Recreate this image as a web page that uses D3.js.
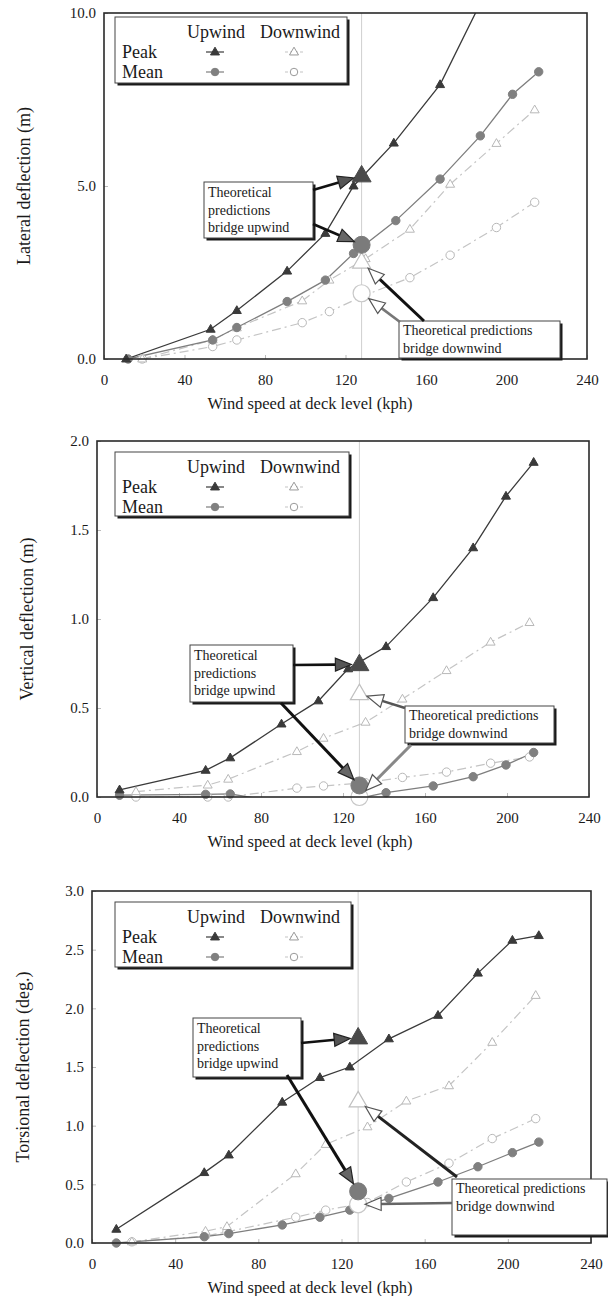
<!DOCTYPE html>
<html><head><meta charset="utf-8">
<script src="https://cdn.jsdelivr.net/npm/d3@7"></script>
<style>
body{margin:0;background:#fff}
svg{display:block}
svg text{font-family:"Liberation Serif","Times New Roman",serif !important;fill:#1a1a1a}
</style>
</head><body>
<svg id="c" width="608" height="1296" font-family="Liberation Serif, serif"></svg>
<script>
// ---------------- data ----------------
const xTicks = [0, 40, 80, 120, 160, 200, 240];
const lateralTicks = [0, 5, 10];
const verticalTicks = [0, 0.5, 1, 1.5, 2];
const torsionTicks = [0, 0.5, 1, 1.5, 2, 2.5, 3];
const xTitle = "Wind speed at deck level (kph)";
const legendCols = ["Upwind", "Downwind"];
const legendRows = ["Peak", "Mean"];
const boxUpText = ["Theoretical", "predictions", "bridge upwind"];
const boxDownText = ["Theoretical predictions", "bridge downwind"];
const theoryKph = 128;

// Lateral deflection (m)
const latPeakUpSpeed = [11, 53, 66, 91, 110, 124, 144, 167, 188];
const latPeakUp = [0, 0.86, 1.40, 2.54, 3.63, 5.0, 6.24, 7.93, 10.4];
const latMeanUpSpeed = [12, 54, 66, 91, 110, 124, 145, 167, 187, 203, 216];
const latMeanUp = [0, 0.55, 0.91, 1.66, 2.28, 3.05, 4.0, 5.2, 6.45, 7.65, 8.3];
const latDownSpeed = [19, 54, 66, 98.5, 112, 130, 152, 172, 195, 214];
const latPeakDown = [0, 0.55, 0.9, 1.68, 2.28, 2.9, 3.75, 5.05, 6.23, 7.2];
const latMeanDown = [0, 0.36, 0.55, 1.05, 1.37, 1.85, 2.35, 3.0, 3.8, 4.53];
const latTheory = {peakUp: 5.3, meanUp: 3.3, peakDown: 2.8, meanDown: 1.9};

// Vertical deflection (m)
const verUpSpeed = [11, 53, 65, 90, 108, 122.5, 141, 164, 183.5, 199.5, 213];
const verPeakUp = [0.04, 0.15, 0.22, 0.41, 0.54, 0.72, 0.845, 1.12, 1.40, 1.69, 1.88];
const verMeanUp = [0.01, 0.015, 0.017, -0.03, -0.04, -0.02, 0.024, 0.062, 0.114, 0.18, 0.25];
const verDownSpeed = [19, 54, 64, 97.5, 110.5, 131, 149, 170.5, 192, 211];
const verPeakDown = [0.03, 0.067, 0.10, 0.255, 0.33, 0.42, 0.55, 0.71, 0.87, 0.98];
const verMeanDown = [0.0, 0.0, 0.0, 0.05, 0.062, 0.08, 0.11, 0.14, 0.19, 0.225];
const verTheory = {peakUp: 0.745, meanUp: 0.065, peakDown: 0.58, meanDown: 0.0};

// Torsional deflection (deg.)
const torUpSpeed = [11.7, 54, 65.8, 91.5, 109.6, 124, 142.8, 166.4, 185.6, 202.2, 214.9];
const torPeakUp = [0.117, 0.60, 0.75, 1.20, 1.41, 1.50, 1.74, 1.94, 2.30, 2.58, 2.62];
const torMeanUp = [0, 0.054, 0.08, 0.154, 0.22, 0.28, 0.38, 0.52, 0.65, 0.77, 0.86];
const torDownSpeed = [19.2, 54.6, 64.9, 98, 112.4, 132.5, 151.2, 171.7, 192.5, 213.4];
const torPeakDown = [0.01, 0.10, 0.14, 0.59, 0.84, 0.99, 1.21, 1.34, 1.71, 2.11];
const torMeanDown = [0.01, 0.06, 0.095, 0.22, 0.28, 0.345, 0.52, 0.68, 0.89, 1.06];
const torTheory = {peakUp: 1.75, meanUp: 0.44, peakDown: 1.21, meanDown: 0.33};

// ---------------- layout ----------------
const panels = [
  {
    x0: 104, x1: 587, yb: 359, yt: 13, ymax: 10, ticks: lateralTicks,
    ytitle: "Lateral deflection (m)", ytx: 24,
    series: {peakUp: [latPeakUpSpeed, latPeakUp], meanUp: [latMeanUpSpeed, latMeanUp],
             peakDown: [latDownSpeed, latPeakDown], meanDown: [latDownSpeed, latMeanDown]},
    theory: latTheory,
    legend: {x: 115, y: 17, w: 232, h: 66},
    boxUp: {x: 204, y: 182, w: 109, h: 56},
    boxDown: {x: 399, y: 321, w: 161, h: 37},
    arrows: [
      {from: [313, 190], to: "peakUp", gap: 8, color: "#111", w: 2.6, head: "#555"},
      {from: [313, 224], to: "meanUp", gap: 8, color: "#111", w: 2.6, head: "#666"},
      {from: [424, 321], to: "peakDown", gap: 9, color: "#111", w: 3, head: "#fff"},
      {from: [400, 322], to: "meanDown", gap: 9, color: "#777", w: 2.6, head: "#fff"}
    ]
  },
  {
    x0: 97, x1: 589, yb: 797, yt: 441, ymax: 2, ticks: verticalTicks,
    ytitle: "Vertical deflection (m)", ytx: 27,
    series: {peakUp: [verUpSpeed, verPeakUp], meanUp: [verUpSpeed, verMeanUp],
             peakDown: [verDownSpeed, verPeakDown], meanDown: [verDownSpeed, verMeanDown]},
    theory: verTheory,
    legend: {x: 115, y: 452, w: 234, h: 64},
    boxUp: {x: 190, y: 645, w: 103, h: 57},
    boxDown: {x: 405, y: 706, w: 149, h: 37},
    arrows: [
      {from: [293, 665], to: "peakUp", gap: 8, color: "#111", w: 2.6, head: "#555"},
      {from: [281, 703], to: "meanUp", gap: 8, color: "#111", w: 3, head: "#666"},
      {from: [405, 708], to: "peakDown", gap: 8, color: "#555", w: 2.6, head: "#fff"},
      {from: [411, 745], to: "meanDown", gap: 9, color: "#888", w: 3, head: "#fff"}
    ]
  },
  {
    x0: 92, x1: 591, yb: 1243, yt: 891, ymax: 3, ticks: torsionTicks,
    ytitle: "Torsional deflection (deg.)", ytx: 23,
    series: {peakUp: [torUpSpeed, torPeakUp], meanUp: [torUpSpeed, torMeanUp],
             peakDown: [torDownSpeed, torPeakDown], meanDown: [torDownSpeed, torMeanDown]},
    theory: torTheory,
    legend: {x: 115, y: 902, w: 236, h: 65},
    boxUp: {x: 193, y: 1018, w: 108, h: 59},
    boxDown: {x: 452, y: 1179, w: 155, h: 56},
    arrows: [
      {from: [301, 1043], to: "peakUp", gap: 8, color: "#111", w: 2.6, head: "#555"},
      {from: [287, 1075], to: "meanUp", gap: 9, color: "#111", w: 3, head: "#666"},
      {from: [457, 1177], to: "peakDown", gap: 9, color: "#222", w: 3, head: "#fff"},
      {from: [452, 1203], to: "meanDown", gap: 7, color: "#666", w: 2.6, head: "#fff"}
    ]
  }
];

const styles = {
  peakUp:   {line: "#3a3a3a", lw: 1.3, dash: null, marker: "tri", fill: "#3a3a3a", stroke: "#3a3a3a"},
  meanUp:   {line: "#7e7e7e", lw: 1.3, dash: null, marker: "circ", fill: "#808080", stroke: "#808080"},
  peakDown: {line: "#c4c4c4", lw: 1.2, dash: "9,4,2,4", marker: "tri", fill: "#fff", stroke: "#b8b8b8"},
  meanDown: {line: "#c4c4c4", lw: 1.2, dash: "9,4,2,4", marker: "circ", fill: "#fff", stroke: "#b8b8b8"}
};
const SERIF = "Liberation Serif, Times New Roman, serif";

function triPath(cx, cy, w) {
  const h = w * 0.866;
  return `M${cx},${cy - h * 0.62}L${cx + w / 2},${cy + h * 0.38}L${cx - w / 2},${cy + h * 0.38}Z`;
}

const svg = d3.select("#c");

function marker(g, kind, cx, cy, size, fill, stroke, sw) {
  if (kind === "tri") {
    g.append("path").attr("d", triPath(cx, cy, size)).attr("fill", fill)
      .attr("stroke", stroke).attr("stroke-width", sw);
  } else {
    g.append("circle").attr("cx", cx).attr("cy", cy).attr("r", size / 2).attr("fill", fill)
      .attr("stroke", stroke).attr("stroke-width", sw);
  }
}

function shadowBox(g, b) {
  g.append("rect").attr("x", b.x + 2.5).attr("y", b.y + 2.5).attr("width", b.w).attr("height", b.h)
    .attr("fill", "#1a1a1a");
  g.append("rect").attr("x", b.x).attr("y", b.y).attr("width", b.w).attr("height", b.h)
    .attr("fill", "#fff").attr("stroke", "#444").attr("stroke-width", 1);
}

function label(g, x, y, size, txt, anchor) {
  return g.append("text").attr("x", x).attr("y", y).attr("font-size", size)
    .attr("text-anchor", anchor || "start").style("font-family", SERIF).text(txt);
}

function arrow(g, x1, y1, x2, y2, a) {
  const dx = x2 - x1, dy = y2 - y1, L = Math.hypot(dx, dy);
  const ux = dx / L, uy = dy / L;
  const hl = 16, hw = 6.5;
  const bx = x2 - ux * hl, by = y2 - uy * hl;
  g.append("line").attr("x1", x1).attr("y1", y1).attr("x2", bx + ux * 1).attr("y2", by + uy * 1)
    .attr("stroke", a.color).attr("stroke-width", a.w);
  const px = -uy, py = ux;
  g.append("path")
    .attr("d", `M${x2},${y2}L${bx + px * hw},${by + py * hw}L${bx - px * hw},${by - py * hw}Z`)
    .attr("fill", a.head).attr("stroke", a.head === "#fff" ? "#555" : "#222").attr("stroke-width", 1.2);
}

panels.forEach((p, i) => {
  const x = d3.scaleLinear().domain([0, 240]).range([p.x0, p.x1]);
  const y = d3.scaleLinear().domain([0, p.ymax]).range([p.yb, p.yt]);
  const g = svg.append("g");
  const clipId = "clip" + i;
  svg.append("defs").append("clipPath").attr("id", clipId).append("rect")
    .attr("x", p.x0).attr("y", p.yt).attr("width", p.x1 - p.x0).attr("height", p.yb - p.yt);

  // axes
  const xa = g.append("g").attr("transform", `translate(0,${p.yb})`)
    .call(d3.axisBottom(x).tickValues(xTicks).tickFormat(d3.format("d")).tickSizeInner(-4).tickSizeOuter(0).tickPadding(15));
  const ya = g.append("g").attr("transform", `translate(${p.x0},0)`)
    .call(d3.axisLeft(y).tickValues(p.ticks).tickFormat(d3.format(".1f")).tickSizeInner(-4).tickSizeOuter(0).tickPadding(8));
  [xa, ya].forEach(a => {
    a.attr("font-family", SERIF).attr("font-size", 15);
    a.select(".domain").remove();
    a.selectAll(".tick line").attr("stroke", "#bbb");
    a.selectAll(".tick text").style("font-family", SERIF).attr("font-size", 15).attr("fill", "#1a1a1a");
  });

  // theory vertical line
  g.append("line").attr("x1", x(theoryKph)).attr("x2", x(theoryKph)).attr("y1", p.yt).attr("y2", p.yb)
    .attr("stroke", "#cfcfcf").attr("stroke-width", 1);

  // series lines
  const plot = g.append("g").attr("clip-path", `url(#${clipId})`);
  const order = ["meanDown", "peakDown", "meanUp", "peakUp"];
  order.forEach(k => {
    const [sx, sy] = p.series[k];
    const pts = sx.map((v, j) => [v, sy[j]]);
    const st = styles[k];
    plot.append("path").datum(pts)
      .attr("d", d3.line().x(d => x(d[0])).y(d => y(d[1])))
      .attr("fill", "none").attr("stroke", st.line).attr("stroke-width", st.lw)
      .attr("stroke-dasharray", st.dash);
  });
  const mk = g.append("g");
  order.forEach(k => {
    const [sx, sy] = p.series[k];
    const st = styles[k];
    sx.forEach((v, j) => {
      const val = sy[j];
      if (val < 0 || val > p.ymax) return;
      marker(mk, st.marker, x(v), y(val), st.marker === "tri" ? 9 : 8.4, st.fill, st.stroke, 1);
    });
  });

  // theoretical predictions
  const th = p.theory;
  const thPos = {
    peakUp: [x(theoryKph), y(th.peakUp)], meanUp: [x(theoryKph), y(th.meanUp)],
    peakDown: [x(theoryKph), y(th.peakDown)], meanDown: [x(theoryKph), y(th.meanDown)]
  };
  marker(mk, "circ", thPos.meanDown[0], thPos.meanDown[1], 17, "#fff", "#c8c8c8", 1.2);
  marker(mk, "tri", thPos.peakDown[0], thPos.peakDown[1], 18, "#fff", "#c0c0c0", 1.2);
  marker(mk, "circ", thPos.meanUp[0], thPos.meanUp[1], 17, "#7b7b7b", "#7b7b7b", 1);
  marker(mk, "tri", thPos.peakUp[0], thPos.peakUp[1], 19, "#4a4a4a", "#4a4a4a", 1);

  // frame
  g.append("rect").attr("x", p.x0).attr("y", p.yt).attr("width", p.x1 - p.x0).attr("height", p.yb - p.yt)
    .attr("fill", "none").attr("stroke", "#2a2a2a").attr("stroke-width", 1.6);

  // axis titles
  label(g, 310, p.yb + 50, 16.5, xTitle, "middle");
  g.append("text").attr("transform", `translate(${p.ytx + 6},${(p.yt + p.yb) / 2}) rotate(-90)`)
    .attr("text-anchor", "middle").attr("font-size", 18).style("font-family", SERIF).text(p.ytitle);

  // legend
  const L = p.legend;
  const lg = g.append("g");
  shadowBox(lg, L);
  legendCols.forEach((c, j) => label(lg, L.x + (j === 0 ? 101 : 185), L.y + 21, 18, c, "middle"));
  legendRows.forEach((r, j) => label(lg, L.x + 7, L.y + 41 + j * 20, 18, r));
  const legKeys = [["peakUp", "peakDown"], ["meanUp", "meanDown"]];
  legKeys.forEach((row, j) => {
    row.forEach((k, c) => {
      const cx = L.x + (c === 0 ? 100 : 179), cy = L.y + 35 + j * 20;
      const st = styles[k];
      lg.append("line").attr("x1", cx - 9).attr("x2", cx + 9).attr("y1", cy).attr("y2", cy)
        .attr("stroke", st.line).attr("stroke-width", 1.2).attr("stroke-dasharray", st.dash ? "3,2" : null);
      marker(lg, st.marker, cx, cy, st.marker === "tri" ? 9 : 7.5,
        st.fill, c === 0 ? st.stroke : "#999", 1);
    });
  });

  // annotation boxes
  const bu = p.boxUp, bd = p.boxDown;
  const ag = g.append("g");
  shadowBox(ag, bu);
  boxUpText.forEach((t, j) => label(ag, bu.x + 4, bu.y + 15 + j * 17.5, 14, t));
  shadowBox(ag, bd);
  boxDownText.forEach((t, j) => label(ag, bd.x + 4, bd.y + 14 + j * 18, 14, t));

  // arrows
  p.arrows.forEach(a => {
    const [tx, ty] = thPos[a.to];
    const dx = tx - a.from[0], dy = ty - a.from[1], Ld = Math.hypot(dx, dy);
    const ex = tx - dx / Ld * a.gap, ey = ty - dy / Ld * a.gap;
    arrow(ag, a.from[0], a.from[1], ex, ey, a);
  });
});
</script>
</body></html>
